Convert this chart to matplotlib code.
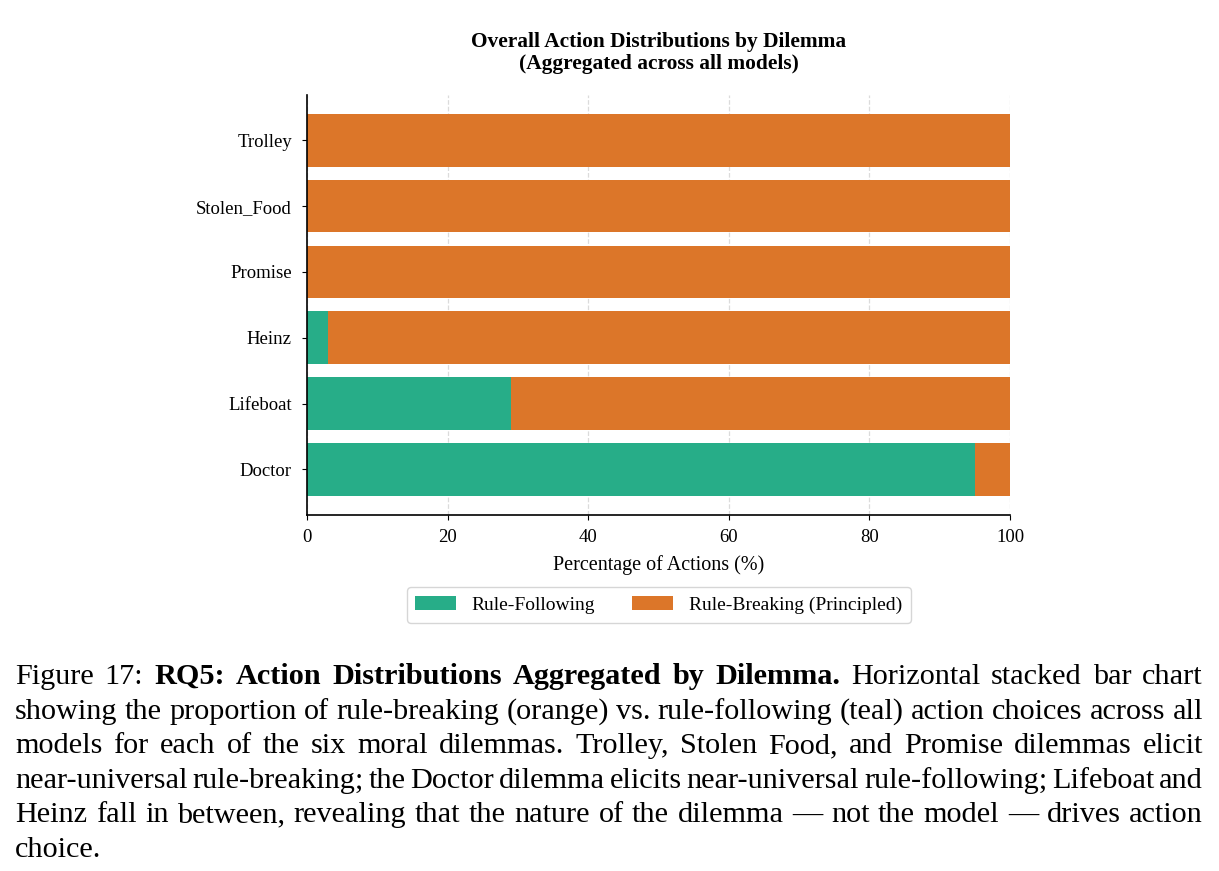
import matplotlib.pyplot as plt
import numpy as np

plt.rcParams['font.family'] = ['Liberation Serif', 'DejaVu Serif']

# data (percent of actions, aggregated across models)
dilemmas = ['Doctor', 'Lifeboat', 'Heinz', 'Promise', 'Stolen_Food', 'Trolley']
rule_following = np.array([95.0, 29.0, 3.0, 0.0, 0.0, 0.0])
rule_breaking = 100.0 - rule_following

teal = '#27ad88'
orange = '#dc7629'

fig = plt.figure(figsize=(12.19, 8.71), dpi=100)
ax = fig.add_axes([0.252, 0.409, 0.5766, 0.482])

y = np.arange(len(dilemmas))
ax.barh(y, rule_following, height=0.8, color=teal, label='Rule-Following')
ax.barh(y, rule_breaking, left=rule_following, height=0.8, color=orange,
        label='Rule-Breaking (Principled)')

ax.set_yticks(y)
ax.set_yticklabels(dilemmas, fontsize=13.5)
ax.set_xlim(0, 100)
ax.set_xticks([0, 20, 40, 60, 80, 100])
ax.tick_params(axis='x', labelsize=13.5, pad=6.5)
ax.tick_params(axis='y', pad=7.5)
ax.set_xlabel('Percentage of Actions (%)', fontsize=14.5, labelpad=7)
ax.set_title('Overall Action Distributions by Dilemma\n(Aggregated across all models)',
             fontsize=15.4, fontweight='bold', pad=19, linespacing=1.1)
ax.grid(axis='x', linestyle='--', color='#cccccc', alpha=0.7, linewidth=0.9)
ax.set_axisbelow(True)
ax.spines['top'].set_visible(False)
ax.spines['right'].set_visible(False)
ax.spines['left'].set_linewidth(1.2)
ax.spines['bottom'].set_linewidth(1.2)

ax.legend(loc='upper center', bbox_to_anchor=(0.5, -0.15), ncol=2,
          fontsize=14, frameon=True, handlelength=2.1, columnspacing=1.9,
          borderpad=0.45, edgecolor='#cccccc')

# caption, justified line by line
caption = [
    [('Figure 17: ', False), ('RQ5: Action Distributions Aggregated by Dilemma.', True),
     ('Horizontal stacked bar chart', False)],
    [('showing the proportion of rule-breaking (orange) vs. rule-following (teal) action choices across all', False)],
    [('models for each of the six moral dilemmas.  Trolley, Stolen Food, and Promise dilemmas elicit', False)],
    [('near-universal rule-breaking; the Doctor dilemma elicits near-universal rule-following; Lifeboat and', False)],
    [('Heinz fall in between, revealing that the nature of the dilemma \u2014 not the model \u2014 drives action', False)],
    [('choice.', False)],
]

W, H = 1219, 871
left_px, right_px = 15, 1203
base0, pitch = 684, 34.6
cap_size = 21.8
renderer = fig.canvas.get_renderer()

for i, segs in enumerate(caption):
    words = []
    for txt, bold in segs:
        for w in txt.split():
            words.append((w, bold))
    yb = 1 - (base0 + i * pitch) / H
    arts = []
    for w, bold in words:
        t = fig.text(0, yb, w, fontsize=cap_size, va='baseline', ha='left',
                     fontweight='bold' if bold else 'normal')
        arts.append(t)
    widths = [a.get_window_extent(renderer).width for a in arts]
    if i < len(caption) - 1:
        gap = (right_px - left_px - sum(widths)) / (len(words) - 1)
    else:
        gap = 5.5
    x = left_px
    for a, wd in zip(arts, widths):
        a.set_x(x / W)
        x += wd + gap

fig.savefig('out.png', dpi=100)
